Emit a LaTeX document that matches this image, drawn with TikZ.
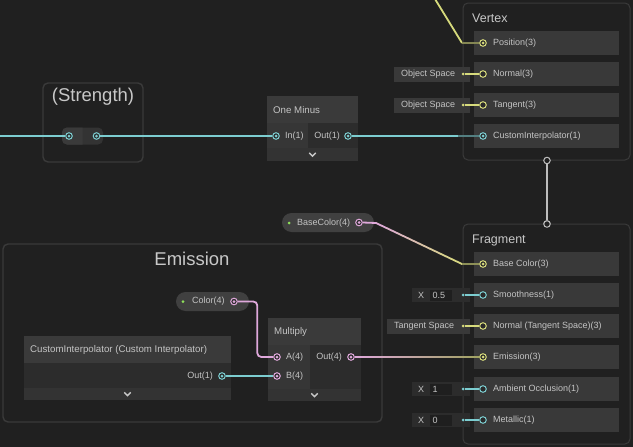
\documentclass[tikz,border=0pt]{standalone}
\usepackage{fontspec}
\setmainfont{Liberation Sans}
\usetikzlibrary{calc}
\definecolor{bgc}{HTML}{202020}
\definecolor{grpline}{HTML}{3A3A3A}
\definecolor{rowc}{HTML}{393939}
\definecolor{headc}{HTML}{3A3A3A}
\definecolor{inc}{HTML}{363636}
\definecolor{outc}{HTML}{2C2C2C}
\definecolor{chevc}{HTML}{333333}
\definecolor{txtc}{HTML}{C4C4C4}
\definecolor{titc}{HTML}{C8C8C8}
\definecolor{cyanc}{HTML}{7CCDD0}
\definecolor{yelc}{HTML}{D6DA7C}
\definecolor{pinkc}{HTML}{DFA8DB}
\definecolor{greenc}{HTML}{8FE05A}
\definecolor{grayc}{HTML}{BDBDBD}
\definecolor{portbg}{HTML}{2A2A2A}
\definecolor{pillc}{HTML}{404040}
\definecolor{fldc}{HTML}{2C2C2C}
\definecolor{fldin}{HTML}{1F1F1F}
\begin{document}
\begin{tikzpicture}[x=1pt,y=-1pt,
  font=\fontsize{9}{10}\selectfont,
  box/.style={anchor=north west, inner sep=0pt, outer sep=0pt, draw=none},
  ctxbox/.style={box, draw=grpline, line width=1pt, rounded corners=5, fill=bgc},
  grpbox/.style={box, draw=grpline, line width=1.4pt, rounded corners=5, fill=bgc},
  rowbox/.style={box, fill=rowc, minimum width=145, minimum height=24},
  lbl/.style={anchor=west, inner sep=0pt, text=txtc},
  rlbl/.style={anchor=east, inner sep=0pt, text=txtc},
  hlbl/.style={anchor=west, inner sep=0pt, text=txtc, font=\fontsize{9.7}{11}\selectfont},
  ttl/.style={inner sep=0pt, text=titc, font=\fontsize{12.5}{14}\selectfont},
  bigttl/.style={inner sep=0pt, text=titc, font=\fontsize{18.5}{20}\selectfont},
  port/.style={circle, draw=#1, line width=1pt, fill=portbg, minimum size=6.6, inner sep=0pt,
    path picture={\fill[#1] (path picture bounding box.center) circle (1.5pt);}},
  oport/.style={circle, draw=#1, line width=1pt, fill=portbg, minimum size=6.6, inner sep=0pt},
  dotp/.style={circle, fill=#1, minimum size=3, inner sep=0pt},
  ring/.style={circle, draw=grayc, line width=1pt, fill=bgc, minimum size=6.5, inner sep=0pt},
  wire/.style={line width=1.8pt, draw=#1},
  stub/.style={line width=1.6pt, draw=#1},
  chev/.style={line width=1.3pt, draw=titc},
  fieldbox/.style={box, fill=fldc, minimum width=58, minimum height=14},
  fieldin/.style={box, fill=fldin, minimum width=22, minimum height=11},
  spacebox/.style={box, fill=rowc, minimum height=15}
]
\fill[bgc] (0,0) rectangle (633,447);
\useasboundingbox (0,0) rectangle (633,447);

% ---------------- Vertex context ----------------
\node[ctxbox, minimum width=167, minimum height=157] (vertex) at (463,3) {};
\node[ttl, anchor=west] (vertexT) at (472,18) {Vertex};
\node[rowbox] (vpos) at (474,31) {};
\node[rowbox] (vnor) at (474,62) {};
\node[rowbox] (vtan) at (474,93) {};
\node[rowbox] (vci)  at (474,124) {};
\node[port=yelc]  (vposP) at (483,43) {};
\node[oport=yelc] (vnorP) at (483,74) {};
\node[oport=yelc] (vtanP) at (483,105) {};
\node[port=cyanc] (vciP)  at (483,136) {};
\node[lbl] (vposL) at (493,43) {Position(3)};
\node[lbl] (vnorL) at (493,74) {Normal(3)};
\node[lbl] (vtanL) at (493,105) {Tangent(3)};
\node[lbl] (vciL)  at (493,136) {CustomInterpolator(1)};

\node[spacebox, minimum width=76] (os1) at (394,66.5) {};
\node[lbl] (os1L) at (401,74) {Object Space};
\node[dotp=yelc] (os1D) at (463,74) {};
\node[spacebox, minimum width=76] (os2) at (394,97.5) {};
\node[lbl] (os2L) at (401,105) {Object Space};
\node[dotp=yelc] (os2D) at (463,105) {};
\draw[stub=yelc] (os1D) -- (vnorP.west);
\draw[stub=yelc] (os2D) -- (vtanP.west);

% top incoming yellow edge
\coordinate (topIn) at (435,-1);
\coordinate (topBend) at (462,43);
\draw[wire=yelc] (topIn) -- (topBend);
\draw[wire=yelc!55!bgc] (topBend) -- (vposP.west);

% Vertex -> Fragment link
\node[ring] (vOut) at (547,160.5) {};
\node[ring] (fIn) at (547,224) {};
\draw[line width=1.6pt, grayc] (vOut.south) -- (fIn.north);

% ---------------- Fragment context ----------------
\node[ctxbox, minimum width=167, minimum height=220] (frag) at (463,224) {};
\node[ring] (fIn2) at (547,224) {};
\node[ttl, anchor=west] (fragT) at (472,240) {Fragment};
\node[rowbox] (fbc) at (474,252) {};
\node[rowbox] (fsm) at (474,283) {};
\node[rowbox] (fno) at (474,314) {};
\node[rowbox] (fem) at (474,345) {};
\node[rowbox] (fao) at (474,377) {};
\node[rowbox] (fme) at (474,408) {};
\node[port=yelc]   (fbcP) at (483,264) {};
\node[oport=cyanc] (fsmP) at (483,295) {};
\node[oport=yelc]  (fnoP) at (483,326) {};
\node[port=yelc]   (femP) at (483,357) {};
\node[oport=cyanc] (faoP) at (483,389) {};
\node[oport=cyanc] (fmeP) at (483,420) {};
\node[lbl] (fbcL) at (493,264) {Base Color(3)};
\node[lbl] (fsmL) at (493,295) {Smoothness(1)};
\node[lbl] (fnoL) at (493,326) {Normal (Tangent Space)(3)};
\node[lbl] (femL) at (493,357) {Emission(3)};
\node[lbl] (faoL) at (493,389) {Ambient Occlusion(1)};
\node[lbl] (fmeL) at (493,420) {Metallic(1)};

% inline inputs
\node[fieldbox] (smF) at (412,288) {};
\node[lbl] (smX) at (418,295) {X};
\node[fieldin] (smI) at (430,289.5) {};
\node[lbl] (smV) at (432.5,295) {0.5};
\node[dotp=cyanc] (smD) at (463,295) {};
\draw[stub=cyanc] (smD) -- (fsmP.west);

\node[spacebox, minimum width=83] (ts) at (387,319) {};
\node[lbl] (tsL) at (394,326) {Tangent Space};
\node[dotp=yelc] (tsD) at (463,326) {};
\draw[stub=yelc] (tsD) -- (fnoP.west);

\node[fieldbox] (aoF) at (412,382) {};
\node[lbl] (aoX) at (418,389) {X};
\node[fieldin] (aoI) at (430,383.5) {};
\node[lbl] (aoV) at (432.5,389) {1};
\node[dotp=cyanc] (aoD) at (463,389) {};
\draw[stub=cyanc] (aoD) -- (faoP.west);

\node[fieldbox] (meF) at (412,413) {};
\node[lbl] (meX) at (418,420) {X};
\node[fieldin] (meI) at (430,414.5) {};
\node[lbl] (meV) at (432.5,420) {0};
\node[dotp=cyanc] (meD) at (463,420) {};
\draw[stub=cyanc] (meD) -- (fmeP.west);

% ---------------- Strength group ----------------
\node[grpbox, minimum width=100, minimum height=79] (strG) at (43,83) {};
\node[bigttl] (strT) at (93,97) {(Strength)};
\node[box, fill=chevc, rounded corners=5, minimum width=41, minimum height=17] (strP) at (62,127.5) {};
\fill[headc] (strP.north) [rounded corners=5] -- (strP.north west) -- (strP.south west) [sharp corners] -- (strP.south) -- cycle;
\node[port=cyanc] (strIn) at (69,136) {};
\node[port=cyanc] (strOut) at (96.5,136) {};
\coordinate (leftIn) at (-1,136);
\draw[wire=cyanc] (leftIn) -- (strIn.west);

% ---------------- One Minus ----------------
\node[box, fill=headc, minimum width=91, minimum height=27] (omH) at (267,96) {};
\node[box, fill=inc, minimum width=41, minimum height=25] (omIn) at (267,123) {};
\node[box, fill=outc, minimum width=50, minimum height=25] (omOut) at (308,123) {};
\node[box, fill=chevc, minimum width=91, minimum height=13] (omC) at (267,148) {};
\node[hlbl] (omT) at (273,110) {One Minus};
\node[port=cyanc] (omInP) at (276,136) {};
\node[lbl] (omInL) at (285,136.5) {In(1)};
\node[rlbl] (omOutL) at (340,136.5) {Out(1)};
\node[port=cyanc] (omOutP) at (348,136) {};
\draw[chev] ($(omC.center)+(-3.2,-1.6)$) -- ++(3.2,3.2) -- ++(3.2,-3.2);
\draw[wire=cyanc] (strOut.east) -- (omInP.west);
\draw[wire=cyanc] (omOutP.east) -- ($(vciP.west)+(-21,0)$);
\draw[wire=cyanc!55!bgc] ($(vciP.west)+(-21,0)$) -- (vciP.west);

% ---------------- BaseColor property ----------------
\node[box, fill=pillc, rounded corners=9.5, minimum width=92, minimum height=19] (bcN) at (282,213) {};
\node[dotp=greenc] (bcD) at (289,223) {};
\node[lbl] (bcL) at (297,223) {BaseColor(4)};
\node[port=pinkc] (bcP) at (359,222.5) {};
\coordinate (bc1) at (376,223);
\coordinate (bc2) at (462,264);
\draw[wire=pinkc] (bcP.east) -- (bc1);
\foreach \i [evaluate=\i as \a using \i/8, evaluate=\i as \b using (\i+1)/8, evaluate=\i as \c using int(100*(\i+0.5)/8)] in {0,...,7}
  { \draw[line width=1.8pt, line cap=round, yelc!\c!pinkc] ($(bc1)!\a!(bc2)$) -- ($(bc1)!\b!(bc2)$); }
\draw[wire=yelc!60!bgc] (bc2) -- (fbcP.west);

% ---------------- Emission group ----------------
\node[grpbox, minimum width=379, minimum height=178] (emG) at (3,244) {};
\node[bigttl] (emT) at (192,259) {Emission};

\node[box, fill=pillc, rounded corners=9.5, minimum width=73, minimum height=19] (colN) at (176,292) {};
\node[dotp=greenc] (colD) at (183,301.5) {};
\node[lbl] (colL) at (192,301.5) {Color(4)};
\node[port=pinkc] (colP) at (234,301.5) {};

% Multiply
\node[box, fill=headc, minimum width=93, minimum height=27] (muH) at (268,318) {};
\node[box, fill=inc, minimum width=42, minimum height=44] (muIn) at (268,345) {};
\node[box, fill=outc, minimum width=51, minimum height=44] (muOut) at (310,345) {};
\node[box, fill=chevc, minimum width=93, minimum height=12] (muC) at (268,389) {};
\node[hlbl] (muT) at (274,331.5) {Multiply};
\node[port=pinkc] (muA) at (277,357) {};
\node[lbl] (muAL) at (286,357.5) {A(4)};
\node[port=pinkc] (muB) at (277,376) {};
\node[lbl] (muBL) at (286,376.5) {B(4)};
\node[rlbl] (muOL) at (342,357.5) {Out(4)};
\node[port=pinkc] (muO) at (351,357) {};
\draw[chev] ($(muC.center)+(-3.2,-1.6)$) -- ++(3.2,3.2) -- ++(3.2,-3.2);

% Custom Interpolator
\node[box, fill=headc, minimum width=207, minimum height=27] (ciH) at (24,336) {};
\node[box, fill=outc, minimum width=207, minimum height=25] (ciB) at (24,363) {};
\node[box, fill=chevc, minimum width=207, minimum height=12] (ciC) at (24,388) {};
\node[hlbl] (ciT) at (30,349.5) {CustomInterpolator (Custom Interpolator)};
\node[rlbl] (ciOL) at (213,376.5) {Out(1)};
\node[port=cyanc] (ciO) at (222,376) {};
\draw[chev] ($(ciC.center)+(-3.2,-1.6)$) -- ++(3.2,3.2) -- ++(3.2,-3.2);

% edges inside Emission
\draw[wire=pinkc, rounded corners=4] (colP.east) -- ++(19.5,0) |- (muA.west);
\draw[wire=cyanc] (ciO.east) -- (muB.west);
\shade[left color=pinkc, right color=yelc!70!bgc] ($(muO.east)+(0,-0.9)$) rectangle ($(femP.west)+(0,0.9)$);
\end{tikzpicture}
\end{document}
